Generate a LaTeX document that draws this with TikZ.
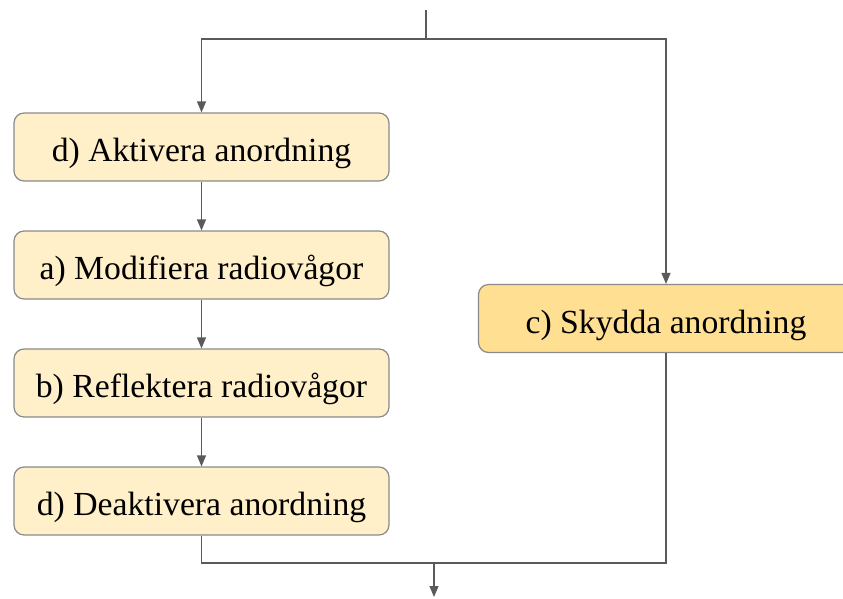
\documentclass[tikz,border=0pt]{standalone}
\usepackage{fontspec}
\setmainfont{Liberation Serif}
\usetikzlibrary{arrows.meta}
\definecolor{lightbox}{HTML}{FFF0C9}
\definecolor{darkbox}{HTML}{FFDF92}
\definecolor{edgegray}{HTML}{8A8A8A}
\definecolor{linegray}{HTML}{5A5A5A}
\tikzset{
  stepbox/.style={draw=edgegray, line width=1.2pt, rounded corners=10pt, fill=lightbox,
    minimum width=375pt, minimum height=68pt, inner sep=0pt,
    text height=32pt, text depth=2.6pt,
    font=\fontsize{33.7}{40}\selectfont, text=black},
  protbox/.style={stepbox, fill=darkbox},
  conn/.style={draw=linegray, line width=1.2pt},
  arr/.style={conn, -{Triangle[length=11pt,width=9pt]}}
}
\begin{document}
\begin{tikzpicture}[x=1pt,y=-1pt]
\clip (0,0) rectangle (843,598);
\node[stepbox] (d1) at (201.5,147) {d) Aktivera anordning};
\node[stepbox] (a) at (201.5,265) {a) Modifiera radiovågor};
\node[stepbox] (b) at (201.5,383) {b) Reflektera radiovågor};
\node[stepbox] (d2) at (201.5,501) {d) Deaktivera anordning};
\node[protbox] (c) at (666,318.5) {c) Skydda anordning};
\coordinate (top) at (426,10);
\coordinate (split) at (426,39);
\coordinate (join) at (434,563);
\coordinate (bottom) at (434,597);
\draw[conn] (top) -- (split);
\draw[arr] (split) -| (d1.north);
\draw[arr] (split) -| (c.north);
\draw[arr] (d1) -- (a);
\draw[arr] (a) -- (b);
\draw[arr] (b) -- (d2);
\draw[conn] (d2.south) |- (join);
\draw[conn] (c.south) |- (join);
\draw[arr] (join) -- (bottom);
\end{tikzpicture}
\end{document}
